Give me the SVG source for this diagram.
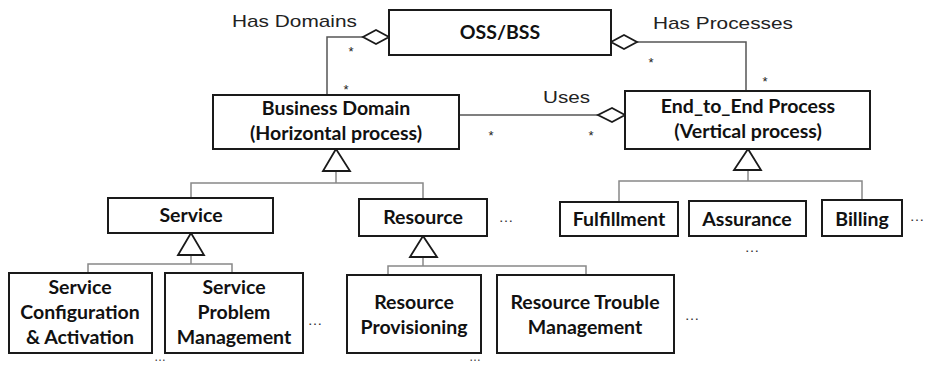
<svg xmlns="http://www.w3.org/2000/svg" width="929" height="365" viewBox="0 0 929 365">
<style>
.box{fill:#fff;stroke:#1a1a1a;stroke-width:2}
.t{font-family:Lato,"Open Sans","Liberation Sans",sans-serif;font-weight:bold;font-size:19.5px;fill:#111;text-anchor:middle}
.lbl{font-family:"Liberation Sans",Arial,sans-serif;font-size:17px;fill:#222}
.star{font-family:"Liberation Sans",Arial,sans-serif;font-size:13px;fill:#222;text-anchor:middle}
.dots{font-family:"Liberation Sans",Arial,sans-serif;font-size:15px;fill:#333;text-anchor:middle}
.dotsb{font-family:"Liberation Sans",Arial,sans-serif;font-size:12px;fill:#333;text-anchor:middle}
.ln{fill:none;stroke:#555;stroke-width:1.5}
.gl{fill:none;stroke:#888;stroke-width:1.5}
.dia{fill:#fff;stroke:#1a1a1a;stroke-width:1.8}
.tri{fill:#fff;stroke:#1a1a1a;stroke-width:1.8}
</style>
<rect width="929" height="365" fill="#fff"/>
<g id="connectors">
<polyline class="ln" points="363,37 327,37 327,95"/>
<polyline class="ln" points="637,42 746,42 746,91"/>
<line class="ln" x1="459" y1="115" x2="598" y2="115"/>
<polygon class="dia" points="389,37 376,30 363,37 376,44"/>
<polygon class="dia" points="611,42 624,35 637,42 624,49"/>
<polygon class="dia" points="625,115 612,108 598,115 612,122"/>
<polyline class="gl" points="336,171 336,183"/>
<polyline class="gl" points="191,198 191,183 423,183 423,199"/>
<polygon class="tri" points="336,149 323,171 350,171"/>
<polyline class="gl" points="191,255 191,264"/>
<polyline class="gl" points="88,273 88,264 232,264 232,273"/>
<polygon class="tri" points="191,233 178,255 204,255"/>
<polyline class="gl" points="423,257 423,266"/>
<polyline class="gl" points="388,275 388,266 586,266 586,275"/>
<polygon class="tri" points="423,236 410,257 437,257"/>
<polyline class="gl" points="748,170 748,181"/>
<polyline class="gl" points="619,202 619,181 862,181 862,200"/>
<polygon class="tri" points="748,149 734,170 761,170"/>
<text class="lbl" x="232" y="27" textLength="125" lengthAdjust="spacingAndGlyphs">Has Domains</text>
<text class="lbl" x="653" y="29" textLength="140" lengthAdjust="spacingAndGlyphs">Has Processes</text>
<text class="lbl" x="543" y="103" textLength="47" lengthAdjust="spacingAndGlyphs">Uses</text>
<text class="star" x="351" y="56">*</text>
<text class="star" x="346" y="94">*</text>
<text class="star" x="651" y="67">*</text>
<text class="star" x="765" y="86">*</text>
<text class="star" x="491" y="140">*</text>
<text class="star" x="591" y="140">*</text>
</g>
<g id="oss">
<rect class="box" x="389" y="10" width="222" height="45"/>
<text class="t" x="500" y="39">OSS/BSS</text>
</g>
<g id="business-domain">
<rect class="box" x="213" y="95" width="246" height="54"/>
<text class="t" x="336" y="115">Business Domain</text>
<text class="t" x="336" y="140">(Horizontal process)</text>
</g>
<g id="e2e">
<rect class="box" x="625" y="91" width="245" height="58"/>
<text class="t" x="748" y="113">End_to_End Process</text>
<text class="t" x="748" y="138">(Vertical process)</text>
</g>
<g id="service">
<rect class="box" x="108" y="198" width="165" height="35"/>
<text class="t" x="191" y="222">Service</text>
</g>
<g id="resource">
<rect class="box" x="359" y="199" width="128" height="37"/>
<text class="t" x="423" y="224">Resource</text>
<text class="dots" x="506" y="222">…</text>
</g>
<g id="svc-config">
<rect class="box" x="9" y="273" width="143" height="80"/>
<text class="t" x="80" y="294">Service</text>
<text class="t" x="80" y="319">Configuration</text>
<text class="t" x="80" y="344">&amp; Activation</text>
</g>
<g id="svc-problem">
<rect class="box" x="165" y="273" width="138" height="80"/>
<text class="t" x="234" y="294">Service</text>
<text class="t" x="234" y="319">Problem</text>
<text class="t" x="234" y="344">Management</text>
<text class="dots" x="315" y="325">…</text>
<text class="dotsb" x="160" y="361">…</text>
</g>
<g id="res-prov">
<rect class="box" x="347" y="275" width="134" height="78"/>
<text class="t" x="414" y="309">Resource</text>
<text class="t" x="414" y="334">Provisioning</text>
<text class="dotsb" x="475" y="361">…</text>
</g>
<g id="res-trouble">
<rect class="box" x="497" y="275" width="177" height="78"/>
<text class="t" x="585" y="309">Resource Trouble</text>
<text class="t" x="585" y="334">Management</text>
<text class="dots" x="692" y="320">…</text>
</g>
<g id="fulfillment">
<rect class="box" x="560" y="202" width="118" height="34"/>
<text class="t" x="619" y="226">Fulfillment</text>
</g>
<g id="assurance">
<rect class="box" x="689" y="201" width="117" height="35"/>
<text class="t" x="747" y="226">Assurance</text>
<text class="dots" x="752" y="252">…</text>
</g>
<g id="billing">
<rect class="box" x="822" y="200" width="80" height="36"/>
<text class="t" x="862" y="226">Billing</text>
<text class="dots" x="917" y="221">…</text>
</g>
</svg>
